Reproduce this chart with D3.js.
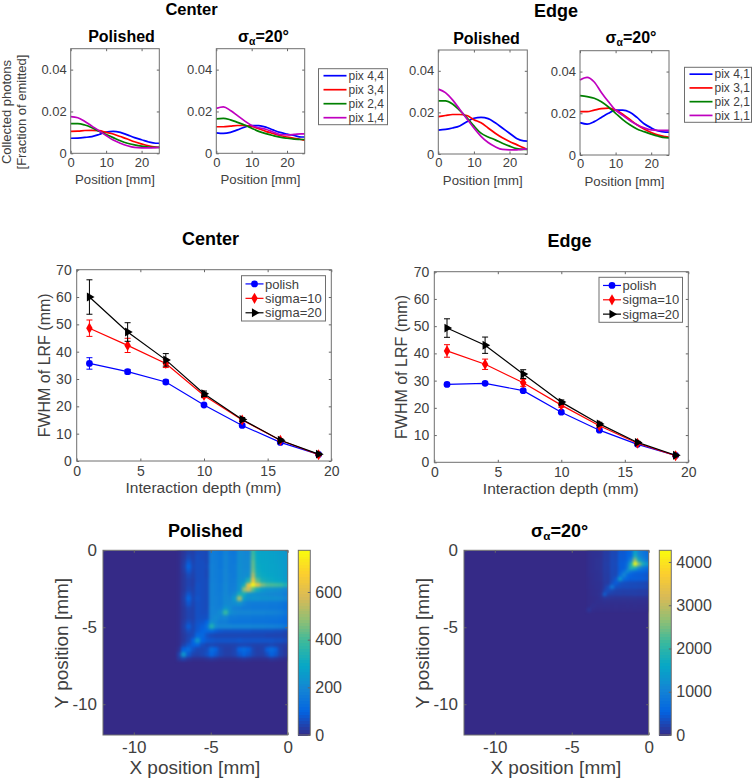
<!DOCTYPE html>
<html>
<head>
<meta charset="utf-8"/>
<title>LRF charts</title>
<script src="https://cdn.jsdelivr.net/npm/d3@7"></script>
<style>
    html, body { margin: 0; padding: 0; background: #fff; }
    svg { display: block; }
    text { font-family: "Liberation Sans", Arial, sans-serif; fill: #404040; }
    text.title { fill: #000; font-weight: bold; }
    .tick line { stroke: #666; }
    .domain { display: none; }
</style>
</head>
<body>
<svg id="chart" width="752" height="778"></svg>
<script>
"use strict";

// photon profiles
const positions = [0, 2, 4, 6, 8, 10, 12, 14, 16, 18, 20, 22, 24, 25];
const pixColors = ["#0000ff", "#ff0000", "#008000", "#bf00bf"];
const centerLabels = ["pix 4,4", "pix 3,4", "pix 2,4", "pix 1,4"];
const edgeLabels = ["pix 4,1", "pix 3,1", "pix 2,1", "pix 1,1"];

const centerPolishedBlue = [.0072, .0073, .0076, .0080, .0090, .0102, .0105, .0100, .0088, .0075, .0065, .0054, .0048, .0048];
const centerPolishedRed = [.0105, .0106, .0109, .0110, .0108, .0100, .0092, .0080, .0068, .0055, .0045, .0036, .0030, .0028];
const centerPolishedGreen = [.0142, .0142, .0135, .0122, .0105, .0090, .0075, .0060, .0048, .0040, .0034, .0030, .0028, .0028];
const centerPolishedMagenta = [.0175, .0170, .0152, .0130, .0108, .0085, .0063, .0048, .0036, .0028, .0026, .0026, .0027, .0028];

const centerSigmaBlue = [.0098, .0095, .0100, .0112, .0125, .0133, .0132, .0125, .0112, .0100, .0092, .0085, .0078, .0078];
const centerSigmaRed = [.0127, .0127, .0130, .0133, .0133, .0128, .0118, .0105, .0095, .0085, .0078, .0072, .0066, .0063];
const centerSigmaGreen = [.0165, .0167, .0160, .0148, .0135, .0120, .0105, .0094, .0085, .0077, .0072, .0068, .0066, .0066];
const centerSigmaMagenta = [.0215, .0222, .0205, .0180, .0155, .0133, .0122, .0115, .0102, .0090, .0088, .0090, .0093, .0093];

const edgePolishedBlue = [.0115, .0118, .0125, .0135, .0155, .0172, .0176, .0170, .0150, .0125, .0100, .0075, .0063, .0062];
const edgePolishedRed = [.0180, .0185, .0190, .0190, .0185, .0165, .0150, .0125, .0100, .0078, .0060, .0045, .0030, .0022];
const edgePolishedGreen = [.0255, .0255, .0240, .0210, .0175, .0135, .0100, .0082, .0068, .0052, .0038, .0026, .0022, .0022];
const edgePolishedMagenta = [.0312, .0295, .0260, .0215, .0170, .0125, .0085, .0055, .0035, .0022, .0020, .0020, .0023, .0025];

const edgeSigmaBlue = [.0155, .0148, .0160, .0180, .0200, .0215, .0215, .0205, .0180, .0150, .0130, .0115, .0110, .0110];
const edgeSigmaRed = [.0208, .0208, .0215, .0222, .0225, .0215, .0195, .0170, .0145, .0125, .0108, .0095, .0088, .0085];
const edgeSigmaGreen = [.0285, .0280, .0272, .0255, .0230, .0200, .0170, .0145, .0125, .0112, .0100, .0090, .0083, .0082];
const edgeSigmaMagenta = [.0360, .0372, .0350, .0300, .0255, .0215, .0190, .0165, .0145, .0130, .0120, .0118, .0118, .0118];

// FWHM vs depth
const depths = [1, 4, 7, 10, 13, 16, 19];
const fwhmLabels = ["polish", "sigma=10", "sigma=20"];
const fwhmColors = ["#0000ff", "#ff0000", "#000000"];

const centerPolish = [35.7, 32.7, 28.9, 20.5, 13, 6.8, 2.4];
const centerPolishErr = [2.1, .8, .7, .5, .5, .4, .3];
const centerSigma10 = [48.6, 42.3, 35.7, 24, 15, 7.6, 2.3];
const centerSigma10Err = [3, 2.6, 1.5, .8, .6, .4, .3];
const centerSigma20 = [60, 47.2, 37, 24.6, 15.2, 7.6, 2.5];
const centerSigma20Err = [6.3, 3.4, 2.3, 1, .7, .5, .3];

const edgePolish = [28.6, 29, 26.3, 18.4, 11.8, 6.6, 2.5];
const edgePolishErr = [.5, .5, .5, .5, .4, .3, .2];
const edgeSigma10 = [40.9, 36, 29.2, 21, 13.4, 7, 2.4];
const edgeSigma10Err = [2.3, 1.9, 1.3, .8, .6, .4, .3];
const edgeSigma20 = [49.3, 43, 32.4, 22.1, 14.1, 7.3, 2.6];
const edgeSigma20Err = [3.4, 3, 1.6, .8, .6, .4, .3];

// flood maps: only the corner that has counts, rows go down from y=0, columns end at x=0
const parula = ["#352a87", "#0363e1", "#1485d4", "#06a7c6", "#38b99e", "#92bf73", "#d9ba56", "#fcce2e", "#f9fb0e"];

const polishedStep = 0.3;
const polishedMax = 775;
const polishedTicks = [0, 200, 400, 600];
const polishedGrid = [
    [5,20,40,35,55,55,50,170,165,150,185,160,155,210,200,195,390,285,280,280,270,265,260,245],
    [5,25,55,40,60,55,50,175,165,155,190,165,160,215,205,200,410,290,285,280,275,270,260,250],
    [5,30,80,45,60,60,50,175,170,155,190,165,160,215,205,205,430,295,285,285,275,270,265,250],
    [5,35,100,50,60,60,55,180,170,155,190,165,165,220,205,205,440,300,290,285,280,275,265,255],
    [5,30,80,45,60,60,50,180,170,160,195,165,165,220,210,210,460,310,290,285,280,275,270,255],
    [5,25,55,40,60,60,50,180,170,160,195,170,165,220,210,225,530,330,300,290,285,275,270,255],
    [5,25,45,35,60,60,55,180,175,160,195,170,170,225,235,340,640,420,330,310,300,290,280,260],
    [5,25,45,35,65,60,55,185,175,165,200,175,175,230,310,620,775,630,470,420,410,400,390,340],
    [5,25,50,40,65,60,55,185,175,165,200,175,180,235,480,560,420,320,250,235,230,225,215,195],
    [5,30,75,45,65,60,55,185,175,170,200,180,205,320,320,240,225,215,210,205,200,195,190,175],
    [5,35,100,50,70,60,55,185,180,170,205,195,250,500,260,225,235,230,225,225,220,220,215,190],
    [5,30,75,45,65,60,55,185,180,170,205,205,215,230,190,170,165,165,165,165,160,160,155,140],
    [5,25,50,40,65,60,55,190,180,180,240,215,180,175,165,165,160,160,160,160,155,155,150,135],
    [5,25,45,40,65,60,60,190,190,215,380,220,200,195,195,195,190,190,190,185,185,180,175,155],
    [5,25,45,40,65,65,65,195,210,190,200,165,165,160,160,160,155,155,155,150,150,150,145,130],
    [5,30,60,45,70,75,100,220,200,170,170,150,145,145,145,145,140,140,140,140,135,135,130,120],
    [5,35,85,50,75,90,130,340,210,195,195,195,190,190,190,190,185,185,185,180,180,175,170,150],
    [5,30,60,50,80,100,110,110,85,75,70,70,70,70,70,70,65,65,65,65,65,60,60,50],
    [5,25,45,55,110,110,70,55,50,50,50,50,50,50,50,50,50,50,50,45,45,45,45,40],
    [5,25,50,100,240,100,80,75,70,70,70,70,70,75,70,70,70,70,70,70,70,65,65,55],
    [5,40,75,95,100,60,45,50,45,40,40,40,40,45,50,45,40,40,40,40,50,40,35,30],
    [15,95,120,70,50,50,60,120,95,50,35,35,45,100,120,95,50,35,40,90,120,90,40,25],
    [40,240,80,45,40,50,65,100,75,50,35,35,45,75,95,75,50,35,35,60,95,75,40,25],
    [25,40,20,10,10,10,15,20,15,10,10,10,10,15,20,15,10,10,10,10,20,15,10,5]
];

const sigmaStep = 0.25;
const sigmaMax = 4270;
const sigmaTicks = [0, 1000, 2000, 3000, 4000];
const sigmaGrid = [
    [40,60,70,80,170,160,280,260,440,430,520,620,1500,1000,850,700],
    [40,60,70,80,180,170,290,270,460,450,540,650,1800,1100,900,750],
    [40,60,80,90,180,170,300,280,470,460,580,1000,2700,1600,1100,850],
    [40,60,80,90,190,180,300,290,480,500,750,1800,4270,2600,1800,1300],
    [40,60,80,90,190,170,300,280,480,500,900,1900,1800,1100,850,700],
    [40,60,70,90,180,170,290,280,490,760,1300,800,650,600,560,500],
    [40,50,70,80,180,160,290,280,650,1100,650,520,480,470,450,400],
    [30,50,70,80,170,160,290,420,1400,650,550,480,500,480,480,430],
    [30,50,60,70,160,150,360,480,380,340,320,310,300,290,280,250],
    [30,40,60,70,170,300,850,350,320,300,320,290,310,290,290,250],
    [20,40,50,70,260,320,260,220,210,200,200,200,190,180,180,160],
    [20,40,50,90,650,220,200,190,200,190,200,190,200,190,190,170],
    [20,30,40,70,110,100,90,85,80,80,80,80,80,75,75,65],
    [15,30,50,50,60,55,50,50,50,45,50,45,50,45,45,40],
    [20,60,35,35,35,35,30,35,30,30,35,30,35,30,30,25],
    [110,25,20,15,20,15,20,15,20,15,20,15,20,15,15,10]
];

const svg = d3.select("#chart");
svg.append("rect").attr("width", 752).attr("height", 778).attr("fill", "#fff");

const defs = svg.append("defs");
defs.append("filter").attr("id", "soft")
    .attr("color-interpolation-filters", "sRGB")
    .append("feGaussianBlur").attr("stdDeviation", 1.5);

var clipCount = 0;

function label(x, y, str, size, anchor, cls, rotate)
{
    const t = svg.append("text")
        .attr("font-size", size)
        .attr("text-anchor", anchor || "middle")
        .attr("class", cls || null)
        .attr("transform", "translate(" + x + "," + y + ")" + (rotate ? " rotate(-90)" : ""))
        .text(str);
    return t;
}

// "sigma_alpha=20 deg" title
function sigmaTitle(x, y, size)
{
    const t = svg.append("text")
        .attr("class", "title")
        .attr("font-size", size)
        .attr("text-anchor", "middle")
        .attr("x", x)
        .attr("y", y);
    t.append("tspan").text("σ");
    t.append("tspan").attr("font-size", size * 0.65).attr("dy", 3).text("α");
    t.append("tspan").attr("dy", -3).text("=20°");
}

function frame(box, x, y, xTicks, yTicks, fontSize, padding, yFormat)
{
    const g = svg.append("g");
    const tickLen = 2.5;
    const xFormat = function (d) { return String(d); };

    const addAxis = function (axis, dx, dy)
    {
        const a = g.append("g")
            .attr("transform", "translate(" + dx + "," + dy + ")")
            .call(axis);
        a.selectAll("text").attr("font-size", fontSize).attr("font-family", null).attr("fill", null);
        a.attr("font-family", null).attr("font-size", null);
    };

    addAxis(d3.axisBottom(x).tickValues(xTicks).tickSizeInner(-tickLen).tickSizeOuter(0).tickPadding(padding).tickFormat(xFormat), 0, box.y1);
    addAxis(d3.axisLeft(y).tickValues(yTicks).tickSizeInner(-tickLen).tickSizeOuter(0).tickPadding(padding).tickFormat(yFormat), box.x0, 0);
    addAxis(d3.axisTop(x).tickValues(xTicks).tickSizeInner(-tickLen).tickSizeOuter(0).tickFormat(""), 0, box.y0);
    addAxis(d3.axisRight(y).tickValues(yTicks).tickSizeInner(-tickLen).tickSizeOuter(0).tickFormat(""), box.x1, 0);

    g.append("rect")
        .attr("x", box.x0).attr("y", box.y0)
        .attr("width", box.x1 - box.x0).attr("height", box.y1 - box.y0)
        .attr("fill", "none").attr("stroke", "#6e6e6e").attr("stroke-width", 1);
}

function profilePanel(box, series)
{
    const x = d3.scaleLinear().domain([0, 25]).range([box.x0, box.x1]);
    const y = d3.scaleLinear().domain([0, 0.05]).range([box.y1, box.y0]);

    const line = d3.line()
        .x(function (d, i) { return x(positions[i]); })
        .y(function (d) { return y(d); })
        .curve(d3.curveMonotoneX);

    svg.append("g").selectAll("path")
        .data(series)
        .enter()
        .append("path")
        .attr("d", line)
        .attr("fill", "none")
        .attr("stroke-width", 1.7)
        .attr("stroke", function (d, i) { return pixColors[i]; });

    frame(box, x, y, [0, 10, 20], [0, 0.02, 0.04], 13, 4, function (d) { return d === 0 ? "0" : d3.format(".2f")(d); });
    label((box.x0 + box.x1) / 2, box.y1 + 31, "Position [mm]", 13.2);
}

function profileLegend(box, labels)
{
    svg.append("rect")
        .attr("x", box.x0).attr("y", box.y0)
        .attr("width", box.x1 - box.x0).attr("height", box.y1 - box.y0)
        .attr("fill", "#fff").attr("stroke", "#6e6e6e").attr("stroke-width", 1);

    const rowH = (box.y1 - box.y0) / labels.length;
    labels.forEach(function (name, i)
    {
        const cy = box.y0 + rowH * (i + 0.5);
        svg.append("line")
            .attr("x1", box.x0 + 5).attr("x2", box.x0 + 28)
            .attr("y1", cy).attr("y2", cy)
            .attr("stroke", pixColors[i]).attr("stroke-width", 1.7);
        label(box.x0 + 30, cy + 4.3, name, 12, "start");
    });
}

const markers = [
    function (s) { s.append("circle").attr("r", 3.4); },
    function (s) { s.append("path").attr("d", d3.symbol().type(d3.symbolDiamond).size(36)()); },
    function (s) { s.append("path").attr("d", d3.symbol().type(d3.symbolTriangle).size(34)()).attr("transform", "rotate(90)"); }
];

function fwhmPanel(box, values, errors)
{
    const x = d3.scaleLinear().domain([0, 20]).range([box.x0, box.x1]);
    const y = d3.scaleLinear().domain([0, 70]).range([box.y1, box.y0]);

    const line = d3.line()
        .x(function (d, i) { return x(depths[i]); })
        .y(function (d) { return y(d); });

    values.forEach(function (vals, s)
    {
        const color = fwhmColors[s];
        const g = svg.append("g").attr("fill", color).attr("stroke", color);

        g.append("path").attr("d", line(vals)).attr("fill", "none").attr("stroke-width", 1.2);

        // error bars
        const bars = g.append("g").attr("stroke-width", 1).selectAll("g")
            .data(vals)
            .enter()
            .append("g");
        bars.append("line")
            .attr("x1", function (d, i) { return x(depths[i]); })
            .attr("x2", function (d, i) { return x(depths[i]); })
            .attr("y1", function (d, i) { return y(d - errors[s][i]); })
            .attr("y2", function (d, i) { return y(d + errors[s][i]); });
        [-1, 1].forEach(function (sign)
        {
            bars.append("line")
                .attr("x1", function (d, i) { return x(depths[i]) - 3; })
                .attr("x2", function (d, i) { return x(depths[i]) + 3; })
                .attr("y1", function (d, i) { return y(d + sign * errors[s][i]); })
                .attr("y2", function (d, i) { return y(d + sign * errors[s][i]); });
        });

        g.append("g").attr("stroke", "none").selectAll("g")
            .data(vals)
            .enter()
            .append("g")
            .attr("transform", function (d, i) { return "translate(" + x(depths[i]) + "," + y(d) + ")"; })
            .call(markers[s]);
    });

    frame(box, x, y, [0, 5, 10, 15, 20], [0, 10, 20, 30, 40, 50, 60, 70], 14, 5, function (d) { return String(d); });
    label((box.x0 + box.x1) / 2 - 0.5, box.y1 + 32, "Interaction depth (mm)", 15.5);
    label(box.x0 - 27, (box.y0 + box.y1) / 2, "FWHM of LRF (mm)", 16, "middle", null, true);
}

function fwhmLegend(box)
{
    svg.append("rect")
        .attr("x", box.x0).attr("y", box.y0)
        .attr("width", box.x1 - box.x0).attr("height", box.y1 - box.y0)
        .attr("fill", "#fff").attr("stroke", "#6e6e6e").attr("stroke-width", 1);

    const rowH = (box.y1 - box.y0 - 2) / fwhmLabels.length;
    fwhmLabels.forEach(function (name, i)
    {
        const cy = box.y0 + 1 + rowH * (i + 0.5);
        svg.append("line")
            .attr("x1", box.x0 + 4).attr("x2", box.x0 + 22)
            .attr("y1", cy).attr("y2", cy)
            .attr("stroke", fwhmColors[i]).attr("stroke-width", 1.2);
        svg.append("g")
            .attr("fill", fwhmColors[i])
            .attr("transform", "translate(" + (box.x0 + 13) + "," + cy + ")")
            .call(markers[i]);
        label(box.x0 + 23.5, cy + 4.6, name, 13, "start");
    });
}

function heatPanel(box, bar, grid, step, maxVal, ticks, barLabelX)
{
    const x = d3.scaleLinear().domain([-12, 0]).range([box.x0, box.x1]);
    const y = d3.scaleLinear().domain([-12, 0]).range([box.y1, box.y0]);

    const color = d3.scaleLinear()
        .domain(parula.map(function (c, i) { return maxVal * i / (parula.length - 1); }))
        .range(parula)
        .clamp(true);

    const clipId = "plot" + (clipCount++);
    defs.append("clipPath").attr("id", clipId)
        .append("rect")
        .attr("x", box.x0).attr("y", box.y0)
        .attr("width", box.x1 - box.x0).attr("height", box.y1 - box.y0);

    const plot = svg.append("g").attr("clip-path", "url(#" + clipId + ")");
    plot.append("rect")
        .attr("x", box.x0).attr("y", box.y0)
        .attr("width", box.x1 - box.x0).attr("height", box.y1 - box.y0)
        .attr("fill", color(0));

    const nCols = grid[0].length;
    const cells = [];
    grid.forEach(function (row, r)
    {
        row.forEach(function (v, c)
        {
            cells.push({r: r, c: c, v: v});
        });
    });

    // edge cells run past the frame so the blur does not fade at the top and right
    plot.append("g").attr("filter", "url(#soft)")
        .attr("shape-rendering", "crispEdges")
        .selectAll("rect")
        .data(cells)
        .enter()
        .append("rect")
        .attr("x", function (d) { return x(-(nCols - d.c) * step); })
        .attr("y", function (d) { return y(d.r === 0 ? 1 : -d.r * step); })
        .attr("width", function (d)
        {
            return x(d.c === nCols - 1 ? 1 : -(nCols - d.c - 1) * step) - x(-(nCols - d.c) * step);
        })
        .attr("height", function (d)
        {
            return y(-(d.r + 1) * step) - y(d.r === 0 ? 1 : -d.r * step);
        })
        .attr("fill", function (d) { return color(d.v); });

    frame(box, x, y, [-10, -5, 0], [-10, -5, 0], 17, 6, function (d) { return String(d); });

    // colorbar
    const c = d3.scaleLinear().domain([0, maxVal]).range([box.y1, box.y0]);
    const levels = d3.range(64);
    svg.append("g").attr("shape-rendering", "crispEdges").selectAll("rect")
        .data(levels)
        .enter()
        .append("rect")
        .attr("x", bar.x0)
        .attr("width", bar.x1 - bar.x0)
        .attr("y", function (d) { return c((d + 1) / 64 * maxVal); })
        .attr("height", function (d) { return c(d / 64 * maxVal) - c((d + 1) / 64 * maxVal) + 0.5; })
        .attr("fill", function (d) { return color((d + 0.5) / 64 * maxVal); });
    svg.append("rect")
        .attr("x", bar.x0).attr("y", box.y0)
        .attr("width", bar.x1 - bar.x0).attr("height", box.y1 - box.y0)
        .attr("fill", "none").attr("stroke", "#6e6e6e");

    const axis = svg.append("g")
        .attr("transform", "translate(" + bar.x1 + ",0)")
        .call(d3.axisRight(c).tickValues(ticks).tickSizeInner(-2.5).tickSizeOuter(0).tickPadding(barLabelX).tickFormat(function (d) { return String(d); }));
    axis.attr("font-family", null).attr("font-size", null);
    axis.selectAll("text").attr("font-size", 16).attr("fill", null);

    label((box.x0 + box.x1) / 2 - 0.5, box.y1 + 39, "X position [mm]", 19);
    label(box.x0 - 35, (box.y0 + box.y1) / 2 + 0.5, "Y position [mm]", 19, "middle", null, true);
}

// top row
label(191.5, 15, "Center", 16.5, "middle", "title");
label(556, 17, "Edge", 18, "middle", "title");
label(121.5, 41.5, "Polished", 16, "middle", "title");
sigmaTitle(263.5, 41.5, 16);
label(486.5, 44, "Polished", 16, "middle", "title");
sigmaTitle(631, 43, 16);

profilePanel({x0: 70.7, x1: 159.3, y0: 48.7, y1: 153.3},
    [centerPolishedBlue, centerPolishedRed, centerPolishedGreen, centerPolishedMagenta]);
profilePanel({x0: 216.3, x1: 304.7, y0: 48.7, y1: 153.3},
    [centerSigmaBlue, centerSigmaRed, centerSigmaGreen, centerSigmaMagenta]);
profilePanel({x0: 438.3, x1: 527.3, y0: 50, y1: 154},
    [edgePolishedBlue, edgePolishedRed, edgePolishedGreen, edgePolishedMagenta]);
profilePanel({x0: 580, x1: 669, y0: 50.7, y1: 155},
    [edgeSigmaBlue, edgeSigmaRed, edgeSigmaGreen, edgeSigmaMagenta]);

profileLegend({x0: 318.5, x1: 387.5, y0: 68.7, y1: 124.7}, centerLabels);
profileLegend({x0: 684.5, x1: 751.5, y0: 67.3, y1: 122.3}, edgeLabels);

label(11, 112, "Collected photons", 13, "middle", null, true);
label(26, 112, "[Fraction of emitted]", 13, "middle", null, true);

// middle row
label(210.5, 245, "Center", 18, "middle", "title");
label(569.5, 247, "Edge", 18, "middle", "title");

fwhmPanel({x0: 76.7, x1: 331.3, y0: 269.7, y1: 461},
    [centerPolish, centerSigma10, centerSigma20], [centerPolishErr, centerSigma10Err, centerSigma20Err]);
fwhmPanel({x0: 434.3, x1: 688.3, y0: 271.7, y1: 462.3},
    [edgePolish, edgeSigma10, edgeSigma20], [edgePolishErr, edgeSigma10Err, edgeSigma20Err]);

fwhmLegend({x0: 241.5, x1: 325.5, y0: 275.7, y1: 321});
fwhmLegend({x0: 599, x1: 682.5, y0: 277.3, y1: 322.3});

// bottom row
label(205.5, 536.5, "Polished", 18, "middle", "title");
sigmaTitle(559.5, 536.5, 18);

heatPanel({x0: 103, x1: 287.7, y0: 550.3, y1: 735}, {x0: 298.3, x1: 310.3},
    polishedGrid, polishedStep, polishedMax, polishedTicks, 5);
heatPanel({x0: 464, x1: 648.7, y0: 550.3, y1: 735}, {x0: 659.3, x1: 671.3},
    sigmaGrid, sigmaStep, sigmaMax, sigmaTicks, 5);
</script>
</body>
</html>
